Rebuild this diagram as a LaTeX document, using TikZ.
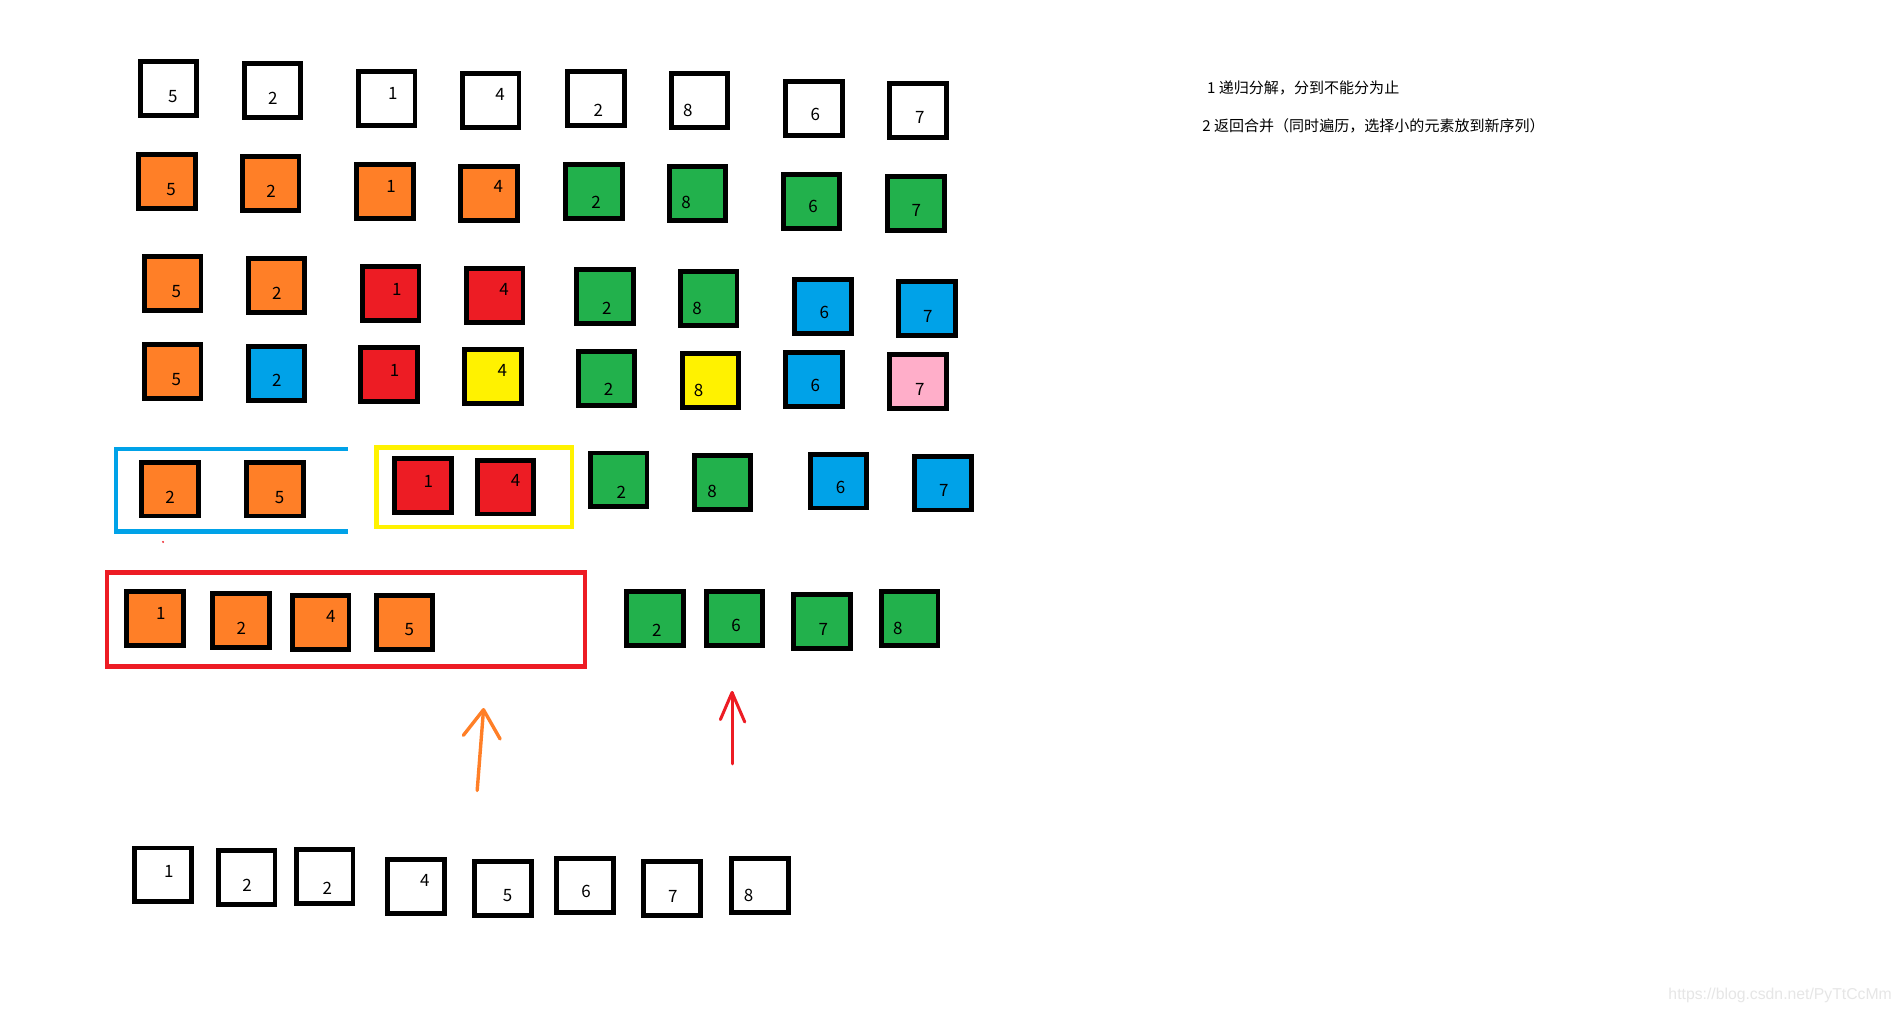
\documentclass[tikz,border=0pt]{standalone}
\usepackage{fontspec}
\setmainfont{Noto Sans CJK SC}
\newfontfamily\wmfont{Liberation Sans}
\definecolor{cOr}{HTML}{FF7F27}
\definecolor{cRd}{HTML}{ED1C24}
\definecolor{cGn}{HTML}{22B14C}
\definecolor{cBl}{HTML}{00A2E8}
\definecolor{cYl}{HTML}{FFF200}
\definecolor{cPk}{HTML}{FFAEC9}
\definecolor{cWm}{HTML}{E6E6E6}
\tikzset{
  cell/.style={draw=black, line width=4pt, minimum width=46.7pt, minimum height=44.4pt, inner sep=0pt, outer sep=0pt},
  num/.style={font=\fontsize{14}{14}\selectfont, inner sep=0pt, text=black},
  note/.style={font=\fontsize{12.4}{14}\selectfont, inner sep=0pt, anchor=west},
  groupline/.style={line width=3.6pt},
  arrowline/.style={line width=2.8pt, line cap=round, line join=round}
}
\newcommand\bx[7]{%
  \node[cell, fill=#4] (#1) at (#2,#3) {};
  \node[num] (#1t) at (#6,#7) {#5};
}
\begin{document}
\begin{tikzpicture}[x=1pt,y=-1pt]
\useasboundingbox (0,0) rectangle (1568,836);
\fill[white] (0,0) rectangle (1568,836);
% row 1
\bx{a1}{139}{73}{white}{5}{142.6}{79.7}
\bx{a2}{224.8}{74.5}{white}{2}{225}{81.1}
\bx{a3}{319}{81}{white}{1}{324}{77}
\bx{a4}{404.7}{82.8}{white}{4}{412.5}{77.8}
\bx{a5}{491.4}{81}{white}{2}{493.5}{90.7}
\bx{a6}{577}{82.8}{white}{8}{567.3}{90.7}
\bx{a7}{671.3}{89.3}{white}{6}{672.5}{94}
\bx{a8}{757}{91}{white}{7}{758.7}{97}
% row 2
\bx{b1}{137.7}{149.6}{cOr}{5}{141.2}{156.2}
\bx{b2}{223.3}{151.2}{cOr}{2}{223.6}{157.5}
\bx{b3}{317.6}{157.8}{cOr}{1}{322.5}{154}
\bx{b4}{403.2}{159.5}{cOr}{4}{411}{154}
\bx{b5}{490}{157.8}{cGn}{2}{491.6}{167.2}
\bx{b6}{575.4}{159.5}{cGn}{8}{565.9}{167.2}
\bx{b7}{669.3}{166.1}{cGn}{6}{670.6}{170.5}
\bx{b8}{755.5}{167.7}{cGn}{7}{755.8}{173.8}
% row 3
\bx{c1}{142.4}{233.7}{cOr}{5}{145.5}{240.6}
\bx{c2}{228}{235.4}{cOr}{2}{228.3}{241.9}
\bx{c3}{322.3}{242}{cRd}{1}{327.3}{238.6}
\bx{c4}{408}{243.6}{cRd}{4}{415.8}{238.6}
\bx{c5}{499}{244.4}{cGn}{2}{500.6}{254.3}
\bx{c6}{584.6}{246.1}{cGn}{8}{574.9}{254.3}
\bx{c7}{678.8}{252.7}{cBl}{6}{680}{257.6}
\bx{c8}{764.5}{254.3}{cBl}{7}{765.3}{260.6}
% row 4
\bx{d1}{142.4}{306.3}{cOr}{5}{145.5}{312.9}
\bx{d2}{228}{307.9}{cBl}{2}{228.3}{314}
\bx{d3}{320.8}{308.8}{cRd}{1}{325.4}{305.2}
\bx{d4}{406.6}{310.4}{cYl}{4}{414.4}{305.2}
\bx{d5}{500.3}{312.1}{cGn}{2}{502}{321.1}
\bx{d6}{586}{313.7}{cYl}{8}{576.3}{321.7}
\bx{d7}{671.3}{312.9}{cBl}{6}{672.5}{317.6}
\bx{d8}{757}{314.5}{cPk}{7}{758.7}{321.1}
% row 5 groups
\coordinate (bbA) at (287,370.5);
\coordinate (bbB) at (95.5,370.5);
\coordinate (bbC) at (95.5,438.5);
\coordinate (bbD) at (287,438.5);
\draw[groupline, draw=cBl] (bbA) -- (bbB) -- (bbC) -- (bbD);
\coordinate (ybA) at (310.6,369.1);
\coordinate (ybB) at (471.8,434.6);
\draw[groupline, draw=cYl] (ybA) rectangle (ybB);
\coordinate (rdot) at (134.5,447);
\fill[cRd] (rdot) circle (0.9);
% row 5
\bx{e1}{140.2}{403.4}{cOr}{2}{140.2}{410.5}
\bx{e2}{226.7}{403.4}{cOr}{5}{230.7}{410.5}
\bx{e3}{348.8}{400.2}{cRd}{1}{353.3}{396.9}
\bx{e4}{417}{401.8}{cRd}{4}{425.3}{396.3}
\bx{e5}{510.3}{395.8}{cGn}{2}{512.4}{405.7}
\bx{e6}{596}{397.7}{cGn}{8}{587.3}{405.7}
\bx{e7}{691.6}{396.8}{cBl}{6}{693.3}{401.7}
\bx{e8}{777.8}{398.4}{cBl}{7}{778.5}{404.8}
% row 6 group
\coordinate (rbA) at (88.3,472.3);
\coordinate (rbB) at (482.5,549.5);
\draw[line width=4pt, draw=cRd] (rbA) rectangle (rbB);
% row 6
\bx{f1}{128}{510.1}{cOr}{1}{132.7}{506.3}
\bx{f2}{198.7}{511.8}{cOr}{2}{199}{518}
\bx{f3}{264.5}{513.4}{cOr}{4}{272.9}{508.5}
\bx{f4}{333.7}{513.4}{cOr}{5}{337.7}{519.5}
\bx{f5}{540.1}{510}{cGn}{2}{541.7}{519.5}
\bx{f6}{605.9}{510}{cGn}{6}{607.1}{515.5}
\bx{f7}{677.9}{512.5}{cGn}{7}{679.1}{518.9}
\bx{f8}{750.3}{510}{cGn}{8}{740.6}{518}
% arrows
\coordinate (oaS) at (393.6,652);
\coordinate (oaT) at (398.8,585.4);
\coordinate (oaL) at (382.2,606.5);
\coordinate (oaR) at (412.5,609.5);
\draw[arrowline, draw=cOr] (oaS) -- (oaT);
\draw[arrowline, draw=cOr] (oaL) -- (oaT) -- (oaR);
\coordinate (raS) at (603.8,630);
\coordinate (raT) at (603.8,571.2);
\coordinate (raL) at (594.2,593.5);
\coordinate (raR) at (614.3,595.5);
\draw[arrowline, line width=2.5pt, draw=cRd] (raS) -- (raT);
\draw[arrowline, line width=2.5pt, draw=cRd] (raL) -- (raT) -- (raR);
% bottom row
\bx{g1}{134.6}{721.6}{white}{1}{139.3}{718.5}
\bx{g2}{203.5}{723.7}{white}{2}{203.7}{730.2}
\bx{g3}{267.8}{722.8}{white}{2}{270}{732.7}
\bx{g4}{343.1}{731.2}{white}{4}{350.5}{726.4}
\bx{g5}{414.7}{732.9}{white}{5}{418.7}{739}
\bx{g6}{482.4}{730.3}{white}{6}{483.5}{735.2}
\bx{g7}{554.3}{732.9}{white}{7}{555}{739}
\bx{g8}{627}{730.3}{white}{8}{617.5}{738.3}
% notes
\node[note] (n1) at (995.5,72.9) {1 递归分解，分到不能分为止};
\node[note] (n2) at (991.5,103.6) {2 返回合并（同时遍历，选择小的元素放到新序列）};
\node[font=\wmfont\fontsize{13}{13}\selectfont, text=cWm, inner sep=0pt, anchor=west] (wm) at (1376,820.7) {https://blog.csdn.net/PyTtCcMm};
\end{tikzpicture}
\end{document}
